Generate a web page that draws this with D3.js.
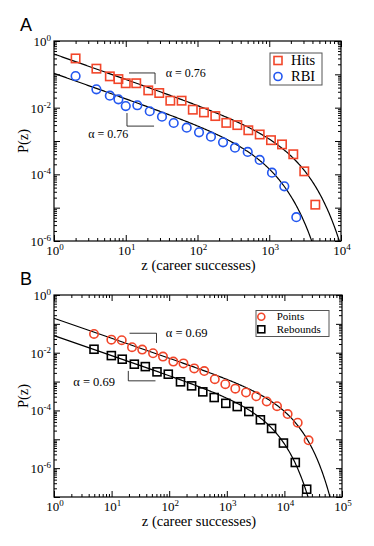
<!DOCTYPE html>
<html>
<head>
<meta charset="utf-8">
<script src="https://cdn.jsdelivr.net/npm/d3@7"></script>
<style>
  body { margin: 0; background: #fff; }
  text { font-family: "Liberation Serif", "Times New Roman", serif; }
</style>
</head>
<body>
<div id="chart"></div>
<script>
// ---- panel A : baseball (career hits, RBI) ----
var hitsZ = [2, 3.9, 6, 7.9, 10, 14, 20.6, 29.3, 41.8, 60, 86, 123, 177, 252, 359, 511, 736, 1057, 1506, 2163, 3077, 4385];
var hitsP = [0.30, 0.148, 0.087, 0.072, 0.054, 0.054, 0.033, 0.0275, 0.0162, 0.0162, 0.0087, 0.0072, 0.0056, 0.0035,
             0.0030, 0.0021, 0.00157, 0.00106, 0.00079, 0.00040, 0.000123, 0.0000123];
var rbiZ = [2, 3.9, 6, 7.9, 10, 14.5, 21.6, 32, 46.6, 70.7, 105, 154, 227, 333, 501, 736, 1092, 1622, 2383];
var rbiP = [0.089, 0.0356, 0.0229, 0.0178, 0.0112, 0.0118, 0.0078, 0.00536, 0.00347, 0.00251, 0.00182, 0.00135,
            0.00091, 0.00063, 0.00047, 0.00027, 0.000112, 0.0000438, 0.0000052];

// ---- panel B : basketball (career points, rebounds) ----
var pointsZ = [4.95, 9.9, 15, 22.6, 34, 52.4, 78, 118, 177, 272, 406, 619, 942, 1405, 2155, 3250, 4930, 7450, 11380, 17020, 26300];
var pointsP = [0.0448, 0.0284, 0.0271, 0.0155, 0.0128, 0.0096, 0.00733, 0.00492, 0.00427, 0.00286, 0.00231, 0.00121,
               0.000813, 0.000568, 0.00042, 0.000308, 0.000205, 0.00014, 0.000075, 0.0000375, 0.0000092];
var reboundsZ = [4.95, 9.9, 15.3, 24.8, 38.5, 61.4, 96.4, 157, 245, 383, 604, 961, 1517, 2410, 3830, 5990, 9620, 15460, 24380];
var reboundsP = [0.0132, 0.00794, 0.00596, 0.0040, 0.0033, 0.00217, 0.0018, 0.00098, 0.00071, 0.00044, 0.00028,
                 0.000176, 0.000136, 0.0000916, 0.0000473, 0.0000237, 0.0000074, 0.00000157, 0.000000186];

// gamma fits P(z) = amp * z^-alpha * exp(-z/zc)  -> [amp, alpha, zc]
var hitsFit = [0.407, 0.76, 1590];
var rbiFit = [0.107, 0.76, 738];
var pointsFit = [0.156, 0.69, 9300];
var reboundsFit = [0.039, 0.69, 4380];

// tick labels
var xLabelsA = [1, 10, 100, 1000, 10000];
var xLabelsB = [1, 10, 100, 1000, 10000, 100000];
var yLabels = [1, 1e-2, 1e-4, 1e-6];

// slope guides [z0, z1, Ptop, Pbottom] and the alpha texts
var guidesA = [[11.1, 25.6, 0.11, 0.051, "up"], [10.4, 24.8, 0.0069, 0.0028, "down"]];
var alphaTextA = [[36, 0.081, "α = 0.76"], [3.0, 0.00127, "α = 0.76"]];
var guidesB = [[20.5, 60.2, 0.0473, 0.0218, "up"], [19.5, 57.8, 0.00234, 0.00106, "down"]];
var alphaTextB = [[87, 0.036, "α = 0.69"], [2.16, 0.00072, "α = 0.69"]];

var red = "#f2462a", blue = "#2357f0";

var svg = d3.select("#chart").append("svg")
    .attr("width", 374)
    .attr("height", 546);

function sup(sel, v) {
  var e = Math.round(Math.log10(v));
  sel.append("tspan").text("10");
  sel.append("tspan").attr("dy", -5).attr("font-size", 9).text(e);
}

function drawPanel(o) {
  var x = d3.scaleLog().domain(o.xDom).range([o.left, o.right]);
  var y = d3.scaleLog().domain(o.yDom).range([o.bottom, o.top]);
  var g = svg.append("g");

  var isMajor = function(v) { var l = Math.log10(v); return Math.abs(l - Math.round(l)) < 1e-6; };
  var xt = x.ticks(), yt = y.ticks();
  var xMaj = xt.filter(isMajor), xMin = xt.filter(function(v) { return !isMajor(v); });
  var yMaj = yt.filter(isMajor), yMin = yt.filter(function(v) { return !isMajor(v); });

  function ax(fn, scale, vals, size, tr) {
    g.append("g")
      .attr("transform", tr)
      .call(fn(scale).tickValues(vals).tickSize(-size).tickSizeOuter(0).tickFormat(""))
      .call(function(a) { a.select(".domain").remove(); a.selectAll("line").attr("stroke", "#000"); });
  }
  ax(d3.axisBottom, x, xMaj, 6, "translate(0," + o.bottom + ")");
  ax(d3.axisBottom, x, xMin, 3, "translate(0," + o.bottom + ")");
  ax(d3.axisTop, x, xMaj, 6, "translate(0," + o.top + ")");
  ax(d3.axisTop, x, xMin, 3, "translate(0," + o.top + ")");
  ax(d3.axisLeft, y, yMaj, 6, "translate(" + o.left + ",0)");
  ax(d3.axisLeft, y, yMin, 3, "translate(" + o.left + ",0)");
  ax(d3.axisRight, y, yMaj, 6, "translate(" + o.right + ",0)");
  ax(d3.axisRight, y, yMin, 3, "translate(" + o.right + ",0)");

  g.append("rect")
    .attr("x", o.left).attr("y", o.top)
    .attr("width", o.right - o.left).attr("height", o.bottom - o.top)
    .attr("fill", "none").attr("stroke", "#000").attr("stroke-width", 1.2);

  // tick labels
  o.xLabels.forEach(function(v) {
    g.append("text").attr("x", x(v) + 1).attr("y", o.bottom + 13.5)
      .attr("text-anchor", "middle").attr("font-size", 13).call(sup, v);
  });
  yLabels.forEach(function(v) {
    g.append("text").attr("x", o.left - 3).attr("y", y(v) + 5)
      .attr("text-anchor", "end").attr("font-size", 13).call(sup, v);
  });

  // axis titles
  g.append("text").attr("x", (o.left + o.right) / 2 + 1).attr("y", o.bottom + 29)
    .attr("text-anchor", "middle").attr("font-size", 14.5).text("z (career successes)");
  g.append("text")
    .attr("transform", "translate(28," + (o.top + o.bottom) / 2 + ") rotate(-90)")
    .attr("text-anchor", "middle").attr("font-size", 14.5).text("P(z)");

  // panel letter
  g.append("text").attr("x", 20).attr("y", o.top - 10)
    .style("font-family", "'Liberation Sans', Arial, sans-serif")
    .attr("font-size", 18).text(o.letter);

  // fits
  var clipId = "clip" + o.letter;
  svg.append("clipPath").attr("id", clipId).append("rect")
    .attr("x", o.left).attr("y", o.top)
    .attr("width", o.right - o.left).attr("height", o.bottom - o.top);
  var zs = d3.range(0, 401).map(function(i) { return Math.pow(10, Math.log10(o.xDom[0]) + i / 400 * Math.log10(o.xDom[1] / o.xDom[0])); });
  var line = d3.line().x(function(d) { return x(d[0]); }).y(function(d) { return y(d[1]); });
  o.series.forEach(function(s) {
    var pts = zs.map(function(z) { return [z, s.fit[0] * Math.pow(z, -s.fit[1]) * Math.exp(-z / s.fit[2])]; })
      .filter(function(d) { return d[1] > o.yDom[0] * 0.3; });
    g.append("path").datum(pts).attr("d", line)
      .attr("clip-path", "url(#" + clipId + ")")
      .attr("fill", "none").attr("stroke", "#000").attr("stroke-width", 1.2);
  });

  // markers
  function marker(sel, shape, color, cx, cy, sz) {
    if (shape === "circle") {
      sel.append("circle").attr("cx", cx).attr("cy", cy).attr("r", sz)
        .attr("fill", "none").attr("stroke", color).attr("stroke-width", 1.6);
    } else {
      sel.append("rect").attr("x", cx - sz).attr("y", cy - sz)
        .attr("width", 2 * sz).attr("height", 2 * sz)
        .attr("fill", "none").attr("stroke", color).attr("stroke-width", 1.6);
    }
  }
  o.series.forEach(function(s) {
    s.z.forEach(function(z, i) { marker(g, s.shape, s.color, x(z), y(s.p[i]), s.size); });
  });

  // slope guides
  o.guides.forEach(function(d) {
    var x0 = x(d[0]), x1 = x(d[1]), yT = y(d[2]), yB = y(d[3]);
    var pts = d[4] === "up" ? [[x0, yT], [x1, yT], [x1, yB]] : [[x0, yT], [x0, yB], [x1, yB]];
    g.append("path").attr("d", d3.line()(pts))
      .attr("fill", "none").attr("stroke", "#000").attr("stroke-width", 0.8);
  });
  o.alphaTexts.forEach(function(d) {
    g.append("text").attr("x", x(d[0])).attr("y", y(d[1]))
      .attr("font-size", o.alphaSize).text(d[2]);
  });

  // legend
  var L = o.legend;
  g.append("rect").attr("x", L.x).attr("y", L.y).attr("width", L.w).attr("height", L.h)
    .attr("fill", "#fff").attr("stroke", "#555").attr("stroke-width", 1);
  o.series.forEach(function(s, i) {
    var cy = L.y + L.row0 + i * L.dy;
    marker(g, s.shape, s.color, L.x + L.mx, cy, L.msize);
    g.append("text").attr("x", L.x + L.tx).attr("y", cy + L.fs * 0.33)
      .attr("font-size", L.fs).text(s.name);
  });
}

drawPanel({
  letter: "A", left: 54, right: 341, top: 41, bottom: 241,
  xDom: [1, 1e4], yDom: [1e-6, 1], xLabels: xLabelsA,
  series: [
    {name: "Hits", z: hitsZ, p: hitsP, fit: hitsFit, shape: "square", color: red, size: 4.2},
    {name: "RBI", z: rbiZ, p: rbiP, fit: rbiFit, shape: "circle", color: blue, size: 4.3}
  ],
  guides: guidesA, alphaTexts: alphaTextA, alphaSize: 12,
  legend: {x: 270, y: 53, w: 52, h: 32, row0: 7.5, dy: 16, mx: 8, tx: 21, fs: 14.5, msize: 4}
});

drawPanel({
  letter: "B", left: 54, right: 342, top: 295, bottom: 497,
  xDom: [1, 1e5], yDom: [1e-7, 1], xLabels: xLabelsB,
  series: [
    {name: "Points", z: pointsZ, p: pointsP, fit: pointsFit, shape: "circle", color: red, size: 4.2},
    {name: "Rebounds", z: reboundsZ, p: reboundsP, fit: reboundsFit, shape: "square", color: "#000", size: 4}
  ],
  guides: guidesB, alphaTexts: alphaTextB, alphaSize: 12.5,
  legend: {x: 256, y: 310.5, w: 73, h: 26, row0: 6.3, dy: 12.5, mx: 5.3, tx: 20.7, fs: 11, msize: 3.5}
});
</script>
</body>
</html>
